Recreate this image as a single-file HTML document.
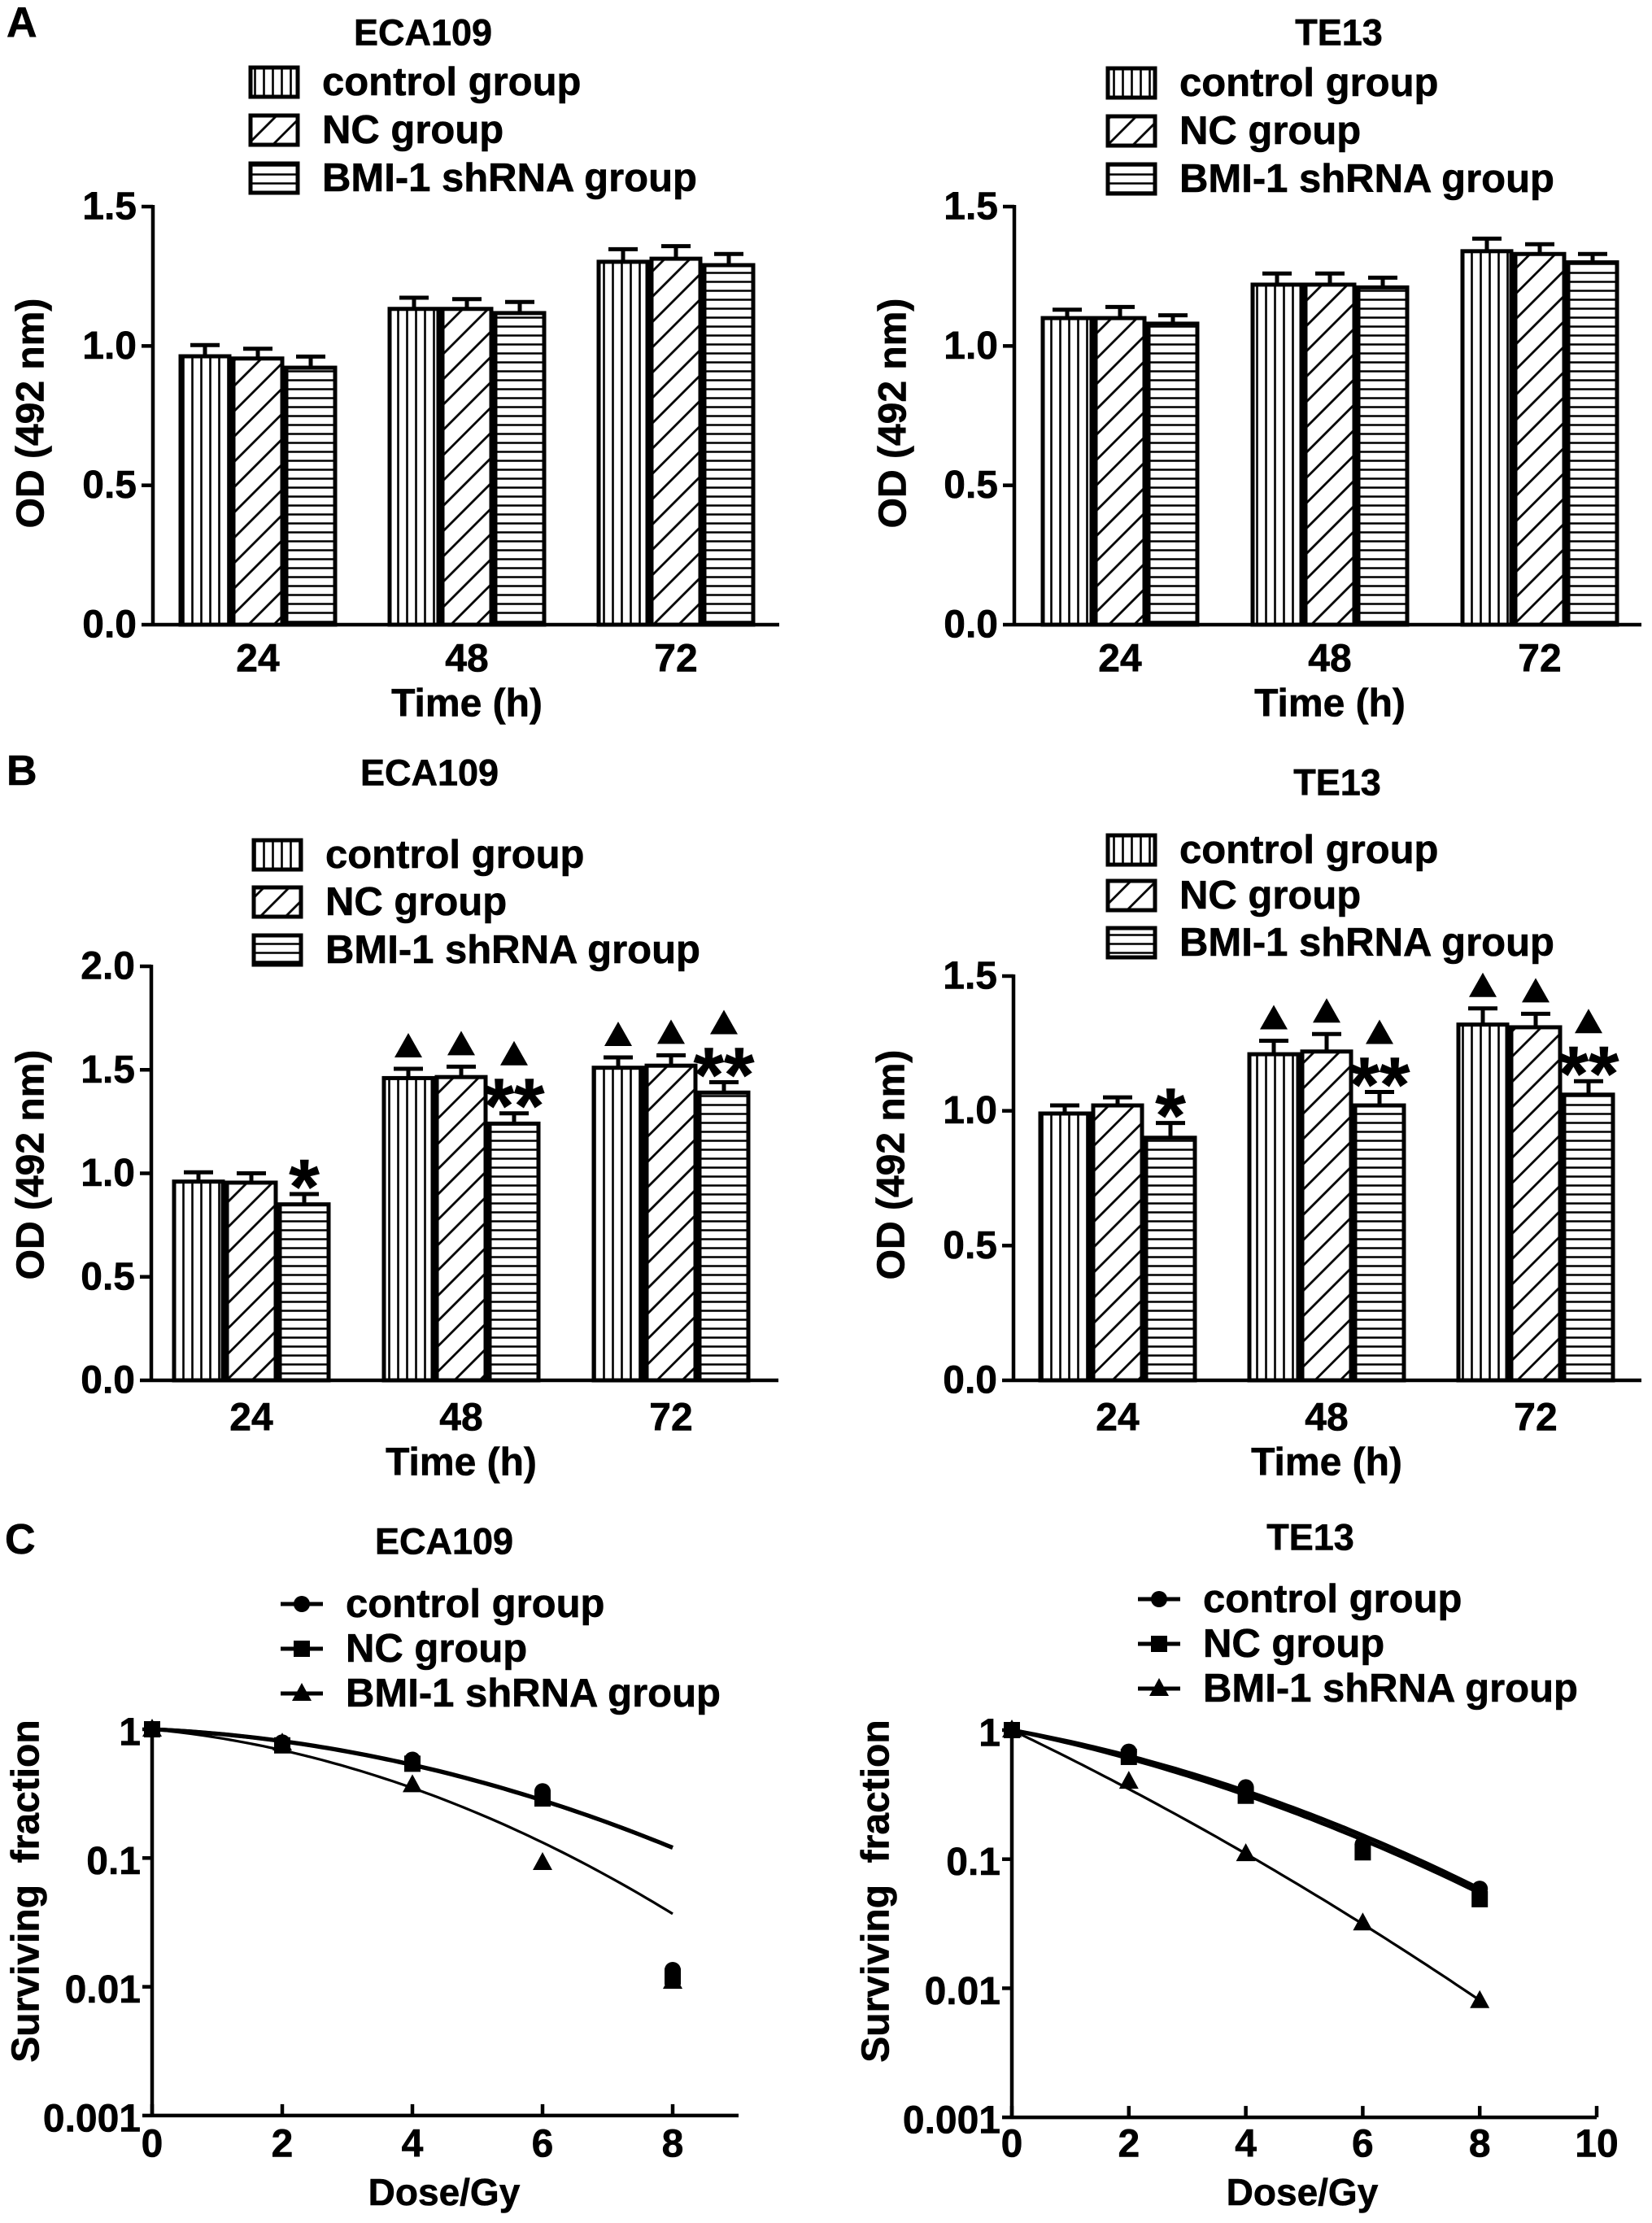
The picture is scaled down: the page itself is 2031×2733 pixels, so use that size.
<!DOCTYPE html>
<html><head><meta charset="utf-8">
<style>
html,body{margin:0;padding:0;background:#fff;}
svg{display:block;}
text{font-family:"Liberation Sans",Arial,sans-serif;font-weight:bold;fill:#000;stroke:#000;stroke-width:0.6px;}
</style></head>
<body>
<svg id="fig" width="2031" height="2733" viewBox="0 0 2031 2733" xmlns="http://www.w3.org/2000/svg">
<defs>
<pattern id="patV" patternUnits="userSpaceOnUse" width="11" height="20"><rect width="11" height="20" fill="#fff"/><line x1="5.5" y1="0" x2="5.5" y2="20" stroke="#000" stroke-width="2.6"/></pattern>
<pattern id="patD" patternUnits="userSpaceOnUse" width="22" height="22" patternTransform="rotate(45)"><rect width="22" height="22" fill="#fff"/><line x1="11" y1="0" x2="11" y2="22" stroke="#000" stroke-width="2.8"/></pattern>
<pattern id="patH" patternUnits="userSpaceOnUse" width="20" height="11"><rect width="20" height="11" fill="#fff"/><line x1="0" y1="5.5" x2="20" y2="5.5" stroke="#000" stroke-width="2.6"/></pattern>
</defs>
<text x="8" y="45" font-size="52">A</text>
<text x="8" y="965" font-size="52">B</text>
<text x="6" y="1910" font-size="52">C</text>
</svg>
<script>
// ---- Panel A left (ECA109) ----
const aLeftCategories = ['24','48','72'];
const aLeftControl = [0.963, 1.133, 1.302];
const aLeftNC = [0.955, 1.133, 1.313];
const aLeftBMI = [0.922, 1.118, 1.290];
const aLeftControlErr = [0.04, 0.04, 0.045];
const aLeftNCErr = [0.035, 0.035, 0.045];
const aLeftBMIErr = [0.04, 0.04, 0.04];
// ---- Panel A right (TE13) ----
const aRightCategories = ['24','48','72'];
const aRightControl = [1.10, 1.22, 1.34];
const aRightNC = [1.10, 1.22, 1.33];
const aRightBMI = [1.08, 1.21, 1.30];
const aRightControlErr = [0.03, 0.04, 0.045];
const aRightNCErr = [0.04, 0.04, 0.035];
const aRightBMIErr = [0.03, 0.035, 0.03];
// ---- Panel B left (ECA109) ----
const bLeftCategories = ['24','48','72'];
const bLeftControl = [0.96, 1.46, 1.51];
const bLeftNC = [0.955, 1.465, 1.52];
const bLeftBMI = [0.85, 1.24, 1.39];
const bLeftControlErr = [0.045, 0.045, 0.05];
const bLeftNCErr = [0.045, 0.05, 0.05];
const bLeftBMIErr = [0.05, 0.05, 0.05];
const bLeftStars = ['', '', '*', '', '', '**', '', '', '**'];
const bLeftTriangles = [0,0,0, 1,1,1, 1,1,1];
// ---- Panel B right (TE13) ----
const bRightCategories = ['24','48','72'];
const bRightControl = [0.99, 1.21, 1.32];
const bRightNC = [1.02, 1.22, 1.31];
const bRightBMI = [0.90, 1.02, 1.06];
const bRightControlErr = [0.03, 0.05, 0.06];
const bRightNCErr = [0.03, 0.065, 0.05];
const bRightBMIErr = [0.055, 0.05, 0.05];
const bRightStars = ['', '', '*', '', '', '**', '', '', '**'];
const bRightTriangles = [0,0,0, 1,1,1, 1,1,1];
const barTickLabelsA = ['0.0','0.5','1.0','1.5'];
const barTickValuesA = [0, 0.5, 1.0, 1.5];
const barTickLabelsB = ['0.0','0.5','1.0','1.5','2.0'];
const barTickValuesB = [0, 0.5, 1.0, 1.5, 2.0];
// ---- Panel C (survival) ----
const doses = [0, 2, 4, 6, 8];
const cLeftControl = [1, 0.79, 0.58, 0.33, 0.0135];
const cLeftNC = [1, 0.75, 0.54, 0.29, 0.012];
const cLeftBMI = [1, 0.78, 0.37, 0.092, 0.011];
const cLeftFitAlpha = [0.052, 0.055, 0.1125];
const cLeftFitBeta = [0.0266, 0.0262, 0.0375];
const cRightControl = [1, 0.68, 0.36, 0.13, 0.059];
const cRightNC = [1, 0.62, 0.31, 0.113, 0.049];
const cRightBMI = [1, 0.40, 0.11, 0.032, 0.008];
const cRightFitAlpha = [0.19, 0.215, 0.5];
const cRightFitBeta = [0.0205, 0.0185, 0.0128];
const logTickValues = [1, 0.1, 0.01, 0.001];
const logTickLabels = ['1','0.1','0.01','0.001'];
const cLeftXTicks = [0, 2, 4, 6, 8];
const cRightXTicks = [0, 2, 4, 6, 8, 10];
const legendLabels = ['control group', 'NC group', 'BMI-1 shRNA group'];

const svg = document.getElementById('fig');
const NS = 'http://www.w3.org/2000/svg';
function mk(tag, attrs, parent) {
  const e = document.createElementNS(NS, tag);
  for (const k in attrs) e.setAttribute(k, attrs[k]);
  (parent || svg).appendChild(e);
  return e;
}
function txt(s, x, y, size, anchor, parent) {
  const t = mk('text', {x: x, y: y, 'font-size': size, 'text-anchor': anchor || 'middle', 'dominant-baseline': 'central'}, parent);
  t.textContent = s;
  return t;
}
const pats = ['url(#patV)', 'url(#patD)', 'url(#patH)'];
const seriesNames = ['control', 'nc', 'bmi'];

function barPanel(cfg, cats, series, errs, tickVals, tickLabels, stars, tris) {
  const g = mk('g', {});
  
  
  const yOf = v => cfg.zero - v / cfg.max * (cfg.zero - cfg.top);
  const t = txt(cfg.title, cfg.titleX, cfg.titleY, 45, 'middle', g);
  
  
  for (let i = 0; i < 3; i++) {
    const ly = cfg.legY[i];
    const box = mk('rect', {x: cfg.legX, y: ly - 18, width: 58, height: 36, fill: pats[i], stroke: '#000', 'stroke-width': 5}, g);
    
    
    const lt = txt(legendLabels[i], cfg.legX + 88, ly, 49, 'start', g);
    
    
  }
  const bw = 65;
  for (let c = 0; c < cats.length; c++) {
    const cx = cfg.c0 + c * cfg.band;
    for (let s = 0; s < 3; s++) {
      const v = series[s][c];
      const x0 = cx - 1.5 * bw + s * bw;
      const yt = yOf(v);
      const ye = yOf(v + errs[s][c]);
      const el = mk('line', {x1: x0 + bw / 2, y1: yt, x2: x0 + bw / 2, y2: ye, stroke: '#000', 'stroke-width': 5}, g);
      
      
      const cap = mk('line', {x1: x0 + bw / 2 - 18, y1: ye, x2: x0 + bw / 2 + 18, y2: ye, stroke: '#000', 'stroke-width': 5}, g);
      
      
      const r = mk('rect', {x: x0 + 2.5, y: yt, width: bw - 5, height: cfg.zero - yt, fill: pats[s], stroke: '#000', 'stroke-width': 5}, g);
      
      
      let top = ye - 10;
      if (stars && stars[c * 3 + s]) {
        const st = txt(stars[c * 3 + s], x0 + bw / 2, 0, 96, 'middle', g);
        st.setAttribute('dominant-baseline', 'auto');
        st.setAttribute('y', top + 34);
        
        
        top -= 45;
      }
      if (tris && tris[c * 3 + s]) {
        const tx = x0 + bw / 2;
        const tri = mk('polygon', {points: (tx - 17) + ',' + (top - 4) + ' ' + (tx + 17) + ',' + (top - 4) + ' ' + tx + ',' + (top - 34)}, g);
        
        
      }
    }
    const cl = txt(cats[c], cx, cfg.catY, 48, 'middle', g);
    
    
  }
  const ya = mk('line', {x1: cfg.ax, y1: cfg.top - 2, x2: cfg.ax, y2: cfg.zero + 2, stroke: '#000', 'stroke-width': 4.5}, g);
  
  
  const xa = mk('line', {x1: cfg.ax, y1: cfg.zero, x2: cfg.xEnd, y2: cfg.zero, stroke: '#000', 'stroke-width': 4.5}, g);
  
  
  for (let i = 0; i < tickVals.length; i++) {
    const yy = yOf(tickVals[i]);
    const tk = mk('line', {x1: cfg.ax - 14, y1: yy, x2: cfg.ax, y2: yy, stroke: '#000', 'stroke-width': 4.5}, g);
    
    
    const tl = txt(tickLabels[i], cfg.ax - 20, yy, 48, 'end', g);
    
    
  }
  const xt = txt('Time (h)', cfg.c0 + cfg.band, cfg.xTitleY, 48, 'middle', g);
  
  
  const yt2 = txt('OD (492 nm)', 0, 0, 48, 'middle', g);
  yt2.setAttribute('transform', 'translate(' + cfg.yTitleX + ',' + cfg.yTitleY + ') rotate(-90)');
  
  
}

barPanel({name: 'chart-a-eca109', title: 'ECA109', titleX: 520, titleY: 40, legX: 308, legY: [101, 160, 219],
  ax: 188, zero: 768, top: 254, max: 1.5, xEnd: 958, c0: 317, band: 257, catY: 810, xTitleY: 865, yTitleX: 38, yTitleY: 508},
  aLeftCategories, [aLeftControl, aLeftNC, aLeftBMI], [aLeftControlErr, aLeftNCErr, aLeftBMIErr], barTickValuesA, barTickLabelsA, null, null);
barPanel({name: 'chart-a-te13', title: 'TE13', titleX: 1646, titleY: 40, legX: 1362, legY: [102, 161, 220],
  ax: 1247, zero: 768, top: 254, max: 1.5, xEnd: 2018, c0: 1377, band: 258, catY: 810, xTitleY: 865, yTitleX: 1098, yTitleY: 508},
  aRightCategories, [aRightControl, aRightNC, aRightBMI], [aRightControlErr, aRightNCErr, aRightBMIErr], barTickValuesA, barTickLabelsA, null, null);
barPanel({name: 'chart-b-eca109', title: 'ECA109', titleX: 528, titleY: 950, legX: 312, legY: [1051, 1109, 1168],
  ax: 186, zero: 1697, top: 1188, max: 2.0, xEnd: 957, c0: 309, band: 258, catY: 1743, xTitleY: 1798, yTitleX: 38, yTitleY: 1432},
  bLeftCategories, [bLeftControl, bLeftNC, bLeftBMI], [bLeftControlErr, bLeftNCErr, bLeftBMIErr], barTickValuesB, barTickLabelsB, bLeftStars, bLeftTriangles);
barPanel({name: 'chart-b-te13', title: 'TE13', titleX: 1644, titleY: 962, legX: 1362, legY: [1045, 1101, 1159],
  ax: 1246, zero: 1697, top: 1200, max: 1.5, xEnd: 2018, c0: 1374, band: 257, catY: 1743, xTitleY: 1798, yTitleX: 1096, yTitleY: 1432},
  bRightCategories, [bRightControl, bRightNC, bRightBMI], [bRightControlErr, bRightNCErr, bRightBMIErr], barTickValuesA, barTickLabelsA, bRightStars, bRightTriangles);

function marker(kind, x, y, parent) {
  let m;
  if (kind === 0) m = mk('circle', {cx: x, cy: y, r: 10}, parent);
  else if (kind === 1) m = mk('rect', {x: x - 10, y: y - 10, width: 20, height: 20}, parent);
  else m = mk('polygon', {points: (x - 12) + ',' + (y + 9) + ' ' + (x + 12) + ',' + (y + 9) + ' ' + x + ',' + (y - 13)}, parent);
  return m;
}

function logPanel(cfg, series, alphas, betas, xTicks) {
  const g = mk('g', {});
  
  
  const xOf = d => cfg.ax + d * cfg.unit;
  const yOf = v => cfg.one - Math.log10(v) * cfg.dec;
  const t = txt(cfg.title, cfg.titleX, cfg.titleY, 45, 'middle', g);
  
  
  const sw = [5, 5, 3.2];
  for (let i = 0; i < 3; i++) {
    const ly = cfg.legY[i];
    const ll = mk('line', {x1: cfg.legX, y1: ly, x2: cfg.legX + 52, y2: ly, stroke: '#000', 'stroke-width': 5}, g);
    
    
    const lm = marker(i, cfg.legX + 26, ly, g);
    
    
    const lt = txt(legendLabels[i], cfg.legX + 80, ly, 49, 'start', g);
    
    
  }
  for (let s = 0; s < 3; s++) {
    let d = '';
    for (let k = 0; k <= 80; k++) {
      const D = doses[doses.length - 1] * k / 80;
      const v = Math.exp(-(alphas[s] * D + betas[s] * D * D));
      d += (k ? 'L' : 'M') + xOf(D).toFixed(1) + ',' + yOf(v).toFixed(1);
    }
    const p = mk('path', {d: d, fill: 'none', stroke: '#000', 'stroke-width': sw[s]}, g);
    
    
  }
  for (let s = 0; s < 3; s++) {
    for (let i = 0; i < doses.length; i++) {
      const m = marker(s, xOf(doses[i]), yOf(series[s][i]), g);
      
      
    }
  }
  const ya = mk('line', {x1: cfg.ax, y1: cfg.one - 2, x2: cfg.ax, y2: yOf(0.001) + 2, stroke: '#000', 'stroke-width': 4.5}, g);
  
  
  const xa = mk('line', {x1: cfg.ax, y1: yOf(0.001), x2: cfg.xEnd, y2: yOf(0.001), stroke: '#000', 'stroke-width': 4.5}, g);
  
  
  for (let i = 0; i < logTickValues.length; i++) {
    const yy = yOf(logTickValues[i]);
    const tk = mk('line', {x1: cfg.ax - 12, y1: yy, x2: cfg.ax, y2: yy, stroke: '#000', 'stroke-width': 4.5}, g);
    
    
    const tl = txt(logTickLabels[i], cfg.ax - 14, yy + 4, 48, 'end', g);
    
    
  }
  for (let i = 0; i < xTicks.length; i++) {
    const xx = xOf(xTicks[i]);
    const tk = mk('line', {x1: xx, y1: yOf(0.001) - 14, x2: xx, y2: yOf(0.001), stroke: '#000', 'stroke-width': 4.5}, g);
    
    
    const tl = txt(String(xTicks[i]), xx, cfg.tickLabelY, 48, 'middle', g);
    
    
  }
  const xt = txt('Dose/Gy', cfg.xTitleX, cfg.xTitleY, 46, 'middle', g);
  
  
  const yt2 = txt('Surviving  fraction', 0, 0, 48, 'middle', g);
  yt2.setAttribute('xml:space', 'preserve');
  yt2.setAttribute('style', 'white-space:pre');
  yt2.setAttribute('transform', 'translate(' + cfg.yTitleX + ',' + cfg.yTitleY + ') rotate(-90)');
  
  
}

logPanel({name: 'chart-c-eca109', title: 'ECA109', titleX: 546, titleY: 1895, legX: 345, legY: [1972, 2027, 2082],
  ax: 187, unit: 80, xEnd: 908, one: 2126, dec: 158.3, tickLabelY: 2636, xTitleX: 546, xTitleY: 2695, yTitleX: 32, yTitleY: 2325},
  [cLeftControl, cLeftNC, cLeftBMI], cLeftFitAlpha, cLeftFitBeta, cLeftXTicks);
logPanel({name: 'chart-c-te13', title: 'TE13', titleX: 1611, titleY: 1890, legX: 1399, legY: [1966, 2021, 2076],
  ax: 1244, unit: 71.9, xEnd: 1963, one: 2127, dec: 158.7, tickLabelY: 2636, xTitleX: 1601, xTitleY: 2695, yTitleX: 1077, yTitleY: 2325},
  [cRightControl, cRightNC, cRightBMI], cRightFitAlpha, cRightFitBeta, cRightXTicks);
</script>
</body></html>
